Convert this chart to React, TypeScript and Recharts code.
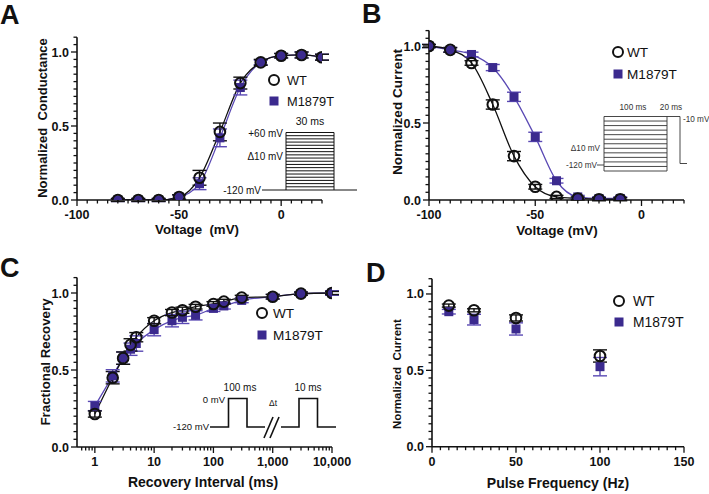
import React from 'react';
import { ComposedChart, Line, Scatter, XAxis, YAxis, ErrorBar } from 'recharts';

const FONT = '"Liberation Sans", Arial, Helvetica, sans-serif';
const INK = '#111';
const PURPLE = '#3b2a8e';
const PURPLE_LINE = '#5a49b4';

// ---------- Panel A: conductance-voltage ----------
const voltA = [-80, -70, -60, -50, -40, -30, -20, -10, 0, 10, 20];
const wtA = [0.0, 0.0, 0.0, 0.02, 0.15, 0.46, 0.79, 0.93, 0.975, 0.98, 0.965];
const wtAErr = [0.01, 0.01, 0.01, 0.015, 0.05, 0.06, 0.04, 0.02, 0.015, 0.02, 0.02];
const mutA = [0.0, 0.0, 0.0, 0.02, 0.11, 0.42, 0.76, 0.93, 0.975, 0.98, 0.965];
const mutAErr = [0.01, 0.01, 0.01, 0.015, 0.04, 0.06, 0.05, 0.015, 0.015, 0.02, 0.02];

// ---------- Panel B: steady-state inactivation ----------
const voltB = [-100, -90, -80, -70, -60, -50, -40, -30, -20, -10];
const wtB = [1.0, 0.975, 0.89, 0.62, 0.285, 0.086, 0.02, 0.01, 0.005, 0.005];
const wtBErr = [0.01, 0.015, 0.015, 0.03, 0.03, 0.015, 0.01, 0.01, 0.01, 0.01];
const mutB = [1.0, 0.975, 0.945, 0.86, 0.67, 0.41, 0.125, 0.02, 0.01, 0.01];
const mutBErr = [0.01, 0.015, 0.015, 0.02, 0.03, 0.03, 0.015, 0.01, 0.01, 0.01];

// ---------- Panel C: recovery from inactivation ----------
const intervalC = [1, 2, 3, 4, 5, 10, 20, 30, 50, 100, 150, 300, 1000, 3000, 10000];
const wtC = [0.214, 0.45, 0.577, 0.663, 0.713, 0.82, 0.873, 0.888, 0.911, 0.929, 0.944, 0.97, 0.976, 0.996, 1.0];
const wtCErr = [0.02, 0.04, 0.04, 0.04, 0.03, 0.02, 0.02, 0.02, 0.015, 0.015, 0.015, 0.015, 0.015, 0.01, 0.01];
const mutC = [0.266, 0.462, 0.577, 0.635, 0.672, 0.762, 0.82, 0.842, 0.855, 0.9, 0.916, 0.952, 0.976, 0.996, 1.0];
const mutCErr = [0.03, 0.04, 0.04, 0.04, 0.05, 0.04, 0.04, 0.04, 0.03, 0.02, 0.02, 0.015, 0.015, 0.01, 0.015];

// ---------- Panel D: use-dependence ----------
const freqD = [10, 25, 50, 100];
const wtD = [0.924, 0.893, 0.843, 0.594];
const wtDErr = [0.01, 0.01, 0.02, 0.04];
const mutD = [0.884, 0.832, 0.771, 0.524];
const mutDErr = [0.015, 0.035, 0.04, 0.06];

// tick values
const range = (a: number, b: number, s: number) => {
  const out: number[] = [];
  for (let v = a; v <= b + 1e-9; v += s) out.push(+v.toFixed(3));
  return out;
};
const yTicks = range(0, 1.1, 0.05);
const yMajors = [0, 0.5, 1.0];
const voltTicks = range(-100, 20, 5);
const voltMajors = [-100, -50, 0];
const freqTicks = range(0, 150, 5);
const freqMajors = [0, 50, 100, 150];
const logTicks = [0.6, 0.7, 0.8, 0.9, 1, 2, 3, 4, 5, 6, 7, 8, 9, 10, 20, 30, 40, 50, 60, 70, 80, 90,
  100, 200, 300, 400, 500, 600, 700, 800, 900, 1000, 2000, 3000, 4000, 5000, 6000, 7000, 8000, 9000, 10000];
const logMajors = [1, 10, 100, 1000, 10000];

const rows = (xs: number[], ys: number[], es: number[]) => xs.map((x, i) => ({ x, y: ys[i], e: es[i] }));

const isMajor = (v: number, majors: number[]) => majors.some((m) => Math.abs(m - v) < 1e-6);

const makeYTick = (majors: number[]) => (props: any) => {
  const { x, y, payload } = props;
  const v = payload.value;
  const maj = isMajor(v, majors);
  return (
    <g>
      <line x1={x} x2={x - (maj ? 6 : 3.5)} y1={y} y2={y} stroke={INK} strokeWidth={1.3} />
      {maj && (
        <text x={x - 8} y={y} dy="0.36em" textAnchor="end" fontFamily={FONT} fontWeight="bold" fontSize={12.5} fill={INK}>
          {v.toFixed(1)}
        </text>
      )}
    </g>
  );
};

const makeXTick = (majors: number[], fmt: (v: number) => string) => (props: any) => {
  const { x, y, payload } = props;
  const v = payload.value;
  const maj = isMajor(v, majors);
  return (
    <g>
      <line x1={x} x2={x} y1={y} y2={y + (maj ? 6 : 3.5)} stroke={INK} strokeWidth={1.3} />
      {maj && (
        <text x={x} y={y + 19} textAnchor="middle" fontFamily={FONT} fontWeight="bold" fontSize={12.5} fill={INK}>
          {fmt(v)}
        </text>
      )}
    </g>
  );
};

const CircleShape = (props: any) => (
  <circle cx={props.cx} cy={props.cy} r={5.3} fill="none" stroke={INK} strokeWidth={2} />
);
const SquareShape = (props: any) => (
  <rect x={props.cx - 4.5} y={props.cy - 4.5} width={9} height={9} fill={PURPLE} />
);

type PanelProps = {
  left: number; right: number; top: number; bottom: number;
  xDomain: [number, number]; xTicks: number[]; xMajors: number[]; xFmt: (v: number) => string; log?: boolean;
  wt: { x: number; y: number; e: number }[]; mut: { x: number; y: number; e: number }[]; fit: boolean;
};

const AX = 1; // axis band thickness

const Panel = ({ left, right, top, bottom, xDomain, xTicks, xMajors, xFmt, log, wt, mut, fit }: PanelProps) => (
  <div style={{ position: 'absolute', left: 0, top: 0 }}>
    <ComposedChart width={709} height={494} margin={{ left: left - AX, top, right: 709 - right, bottom: 494 - bottom - AX }}>
      <XAxis
        type="number"
        dataKey="x"
        scale={log ? 'log' : 'linear'}
        domain={xDomain}
        ticks={xTicks}
        interval={0}
        allowDataOverflow
        height={AX}
        tickSize={0}
        tickMargin={0}
        tickLine={false}
        axisLine={{ stroke: INK, strokeWidth: 1.6 }}
        tick={makeXTick(xMajors, xFmt)}
      />
      <YAxis
        type="number"
        dataKey="y"
        domain={[0, 1.1]}
        ticks={yTicks}
        interval={0}
        allowDataOverflow
        width={AX}
        tickSize={0}
        tickMargin={0}
        tickLine={false}
        axisLine={{ stroke: INK, strokeWidth: 1.6 }}
        tick={makeYTick(yMajors)}
      />
      {fit && (
        <Line data={mut} dataKey="y" type="monotone" stroke={PURPLE_LINE} strokeWidth={1.3} dot={false} isAnimationActive={false} />
      )}
      {fit && (
        <Line data={wt} dataKey="y" type="monotone" stroke={INK} strokeWidth={1.3} dot={false} isAnimationActive={false} />
      )}
      <Scatter data={mut} dataKey="y" shape={SquareShape} isAnimationActive={false}>
        <ErrorBar dataKey="e" direction="y" width={7} stroke={PURPLE_LINE} strokeWidth={1.4} />
      </Scatter>
      <Scatter data={wt} dataKey="y" shape={CircleShape} isAnimationActive={false}>
        <ErrorBar dataKey="e" direction="y" width={7} stroke={INK} strokeWidth={1.4} />
      </Scatter>
    </ComposedChart>
  </div>
);

const T = (p: any) => (
  <text fontFamily={FONT} fill={INK} style={{ whiteSpace: 'pre' }} {...p} />
);

const LegendBlock = ({ cx, cyWT, cyM, tx, size }: { cx: number; cyWT: number; cyM: number; tx: number; size: number }) => (
  <g>
    <circle cx={cx} cy={cyWT} r={5} fill="none" stroke={INK} strokeWidth={2} />
    <T x={tx} y={cyWT} dy="0.36em" fontSize={size}>WT</T>
    <rect x={cx - 4.5} y={cyM - 4.5} width={9} height={9} fill={PURPLE} />
    <T x={tx} y={cyM} dy="0.36em" fontSize={size}>M1879T</T>
  </g>
);

const Overlay = () => {
  const aLevels = range(0, 18, 1);
  const bLevels = range(0, 12, 1);
  return (
    <svg width={709} height={494} style={{ position: 'absolute', left: 0, top: 0, pointerEvents: 'none' }}>
      {/* panel letters */}
      <T x={0} y={24} fontSize={27} fontWeight="bold">A</T>
      <T x={362} y={23} fontSize={27} fontWeight="bold">B</T>
      <T x={0} y={277} fontSize={27} fontWeight="bold">C</T>
      <T x={366} y={282} fontSize={27} fontWeight="bold">D</T>

      {/* axis titles */}
      <T x={197} y={234} textAnchor="middle" fontSize={13.3} fontWeight="bold">{'Voltage  (mV)'}</T>
      <T x={0} y={0} transform="translate(47,118) rotate(-90)" textAnchor="middle" fontSize={13} fontWeight="bold">{'Normalized  Conductance'}</T>

      <T x={557} y={235} textAnchor="middle" fontSize={13.5} fontWeight="bold">Voltage (mV)</T>
      <T x={0} y={0} transform="translate(402,112) rotate(-90)" textAnchor="middle" fontSize={13.6} fontWeight="bold">Normalized Current</T>

      <T x={203} y={487} textAnchor="middle" fontSize={14} fontWeight="bold">Recovery Interval (ms)</T>
      <T x={0} y={0} transform="translate(50,362) rotate(-90)" textAnchor="middle" fontSize={13.3} fontWeight="bold">Fractional Recovery</T>

      <T x={558} y={488} textAnchor="middle" fontSize={14} fontWeight="bold">Pulse Frequency (Hz)</T>
      <T x={0} y={0} transform="translate(401,374) rotate(-90)" textAnchor="middle" fontSize={11.5} fontWeight="bold">{'Normalized  Current'}</T>

      {/* legends */}
      <LegendBlock cx={274} cyWT={80} cyM={101} tx={287} size={12.8} />
      <LegendBlock cx={618} cyWT={52} cyM={74} tx={627} size={13.6} />
      <LegendBlock cx={262} cyWT={313} cyM={335} tx={273} size={13.6} />
      <LegendBlock cx={619} cyWT={301} cyM={322} tx={633} size={13.8} />

      {/* inset A */}
      <g stroke={INK} strokeWidth={1} fill="none">
        {aLevels.map((i) => (
          <line key={i} x1={286} x2={334} y1={190 - i * (57.5 / 18)} y2={190 - i * (57.5 / 18)} />
        ))}
        <line x1={262} x2={286} y1={190} y2={190} />
        <line x1={286} x2={286} y1={132.5} y2={190} />
        <line x1={334} x2={334} y1={132.5} y2={190} />
        <line x1={334} x2={357} y1={190} y2={190} />
      </g>
      <T x={310} y={125} textAnchor="middle" fontSize={10.5}>30 ms</T>
      <T x={283} y={136} textAnchor="end" fontSize={10} dy="0.1em">+60 mV</T>
      <T x={283} y={156} textAnchor="end" fontSize={10} dy="0.36em">Δ10 mV</T>
      <T x={261} y={190} textAnchor="end" fontSize={10} dy="0.36em">-120 mV</T>

      {/* inset B */}
      <g stroke="#333" strokeWidth={0.9} fill="none">
        {bLevels.map((i) => (
          <line key={i} x1={604} x2={667} y1={171 - i * (54.5 / 12)} y2={171 - i * (54.5 / 12)} />
        ))}
        <line x1={604} x2={604} y1={116.5} y2={171} />
        <line x1={667} x2={667} y1={116.5} y2={171} />
        <polyline points="667,116.5 680,116.5 680,163.5 687,163.5" />
        <line x1={597} x2={604} y1={165} y2={165} />
      </g>
      <T x={633} y={110} textAnchor="middle" fontSize={8.2} fill="#333">100 ms</T>
      <T x={671} y={110} textAnchor="middle" fontSize={8.2} fill="#333">20 ms</T>
      <T x={683} y={119} fontSize={8.2} dy="0.36em" fill="#333">-10 mV</T>
      <T x={600} y={148} textAnchor="end" fontSize={8.2} dy="0.36em" fill="#333">Δ10 mV</T>
      <T x={597} y={165} textAnchor="end" fontSize={8.2} dy="0.36em" fill="#333">-120 mV</T>

      {/* inset C */}
      <g stroke={INK} strokeWidth={1.6} fill="none">
        <polyline points="210,427 228.5,427 228.5,398.5 247,398.5 247,427 265,427" />
        <line x1={264} x2={273} y1={438} y2={417} />
        <line x1={270} x2={279} y1={438} y2={417} />
        <polyline points="281,427 299,427 299,398.5 317.5,398.5 317.5,427 336,427" />
      </g>
      <T x={240} y={391} textAnchor="middle" fontSize={10}>100 ms</T>
      <T x={308} y={391} textAnchor="middle" fontSize={10}>10 ms</T>
      <T x={273} y={406} textAnchor="middle" fontSize={8.5}>Δt</T>
      <T x={225} y={400} textAnchor="end" fontSize={9.5} dy="0.36em">0 mV</T>
      <T x={209} y={427} textAnchor="end" fontSize={9.5} dy="0.36em">-120 mV</T>
    </svg>
  );
};

const fmtPlain = (v: number) => String(v);
const fmtComma = (v: number) => v.toLocaleString('en-US');

export default function App() {
  return (
    <div style={{ position: 'absolute', left: 0, top: 0, width: 709, height: 494, background: '#fff', overflow: 'hidden' }}>
      <Panel left={77} right={322} top={37.2} bottom={200} xDomain={[-100, 20]} xTicks={voltTicks} xMajors={voltMajors}
        xFmt={fmtPlain} wt={rows(voltA, wtA, wtAErr)} mut={rows(voltA, mutA, mutAErr)} fit />
      <Panel left={429} right={684} top={30.6} bottom={200} xDomain={[-100, 20]} xTicks={voltTicks} xMajors={voltMajors}
        xFmt={fmtPlain} wt={rows(voltB, wtB, wtBErr)} mut={rows(voltB, mutB, mutBErr)} fit />
      <Panel left={77} right={332} top={277.6} bottom={447} xDomain={[0.5, 10000]} xTicks={logTicks} xMajors={logMajors}
        xFmt={fmtComma} log wt={rows(intervalC, wtC, wtCErr)} mut={rows(intervalC, mutC, mutCErr)} fit />
      <Panel left={432} right={684} top={278.7} bottom={446.7} xDomain={[0, 150]} xTicks={freqTicks} xMajors={freqMajors}
        xFmt={fmtPlain} wt={rows(freqD, wtD, wtDErr)} mut={rows(freqD, mutD, mutDErr)} fit={false} />
      <Overlay />
    </div>
  );
}
